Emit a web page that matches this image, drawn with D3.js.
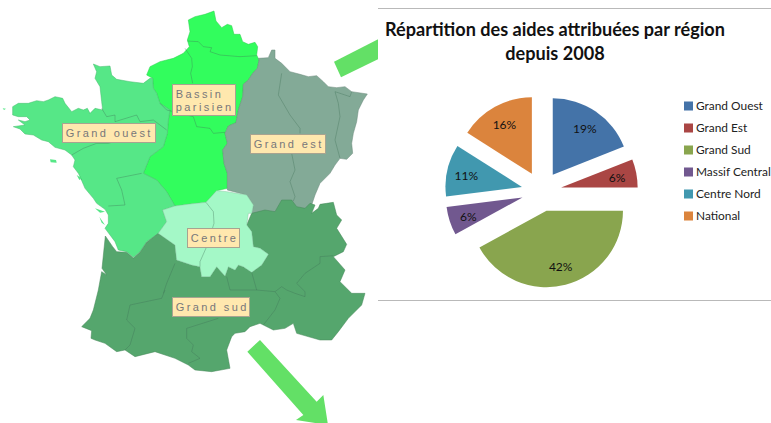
<!DOCTYPE html>
<html>
  <head>
    <meta charset="utf-8">
    <title>Aides par région</title>
    <script src="https://d3js.org/d3.v7.min.js"></script>
    <style>
      html, body { margin: 0; padding: 0; background: #fff; overflow: hidden; }
      svg { display: block; }
    </style>
  </head>
  <body>
    <script>
        // pie data
        var categories = ["Grand Ouest", "Grand Est", "Grand Sud", "Massif Central", "Centre Nord", "National"];
        var shares = [19, 6, 42, 6, 11, 16];
        var pieColors = ["#4473a8", "#aa4644", "#89a54e", "#71588f", "#4198af", "#db843d"];
        var titleLines = ["Répartition des aides attribuées par région", "depuis 2008"];

        // map outlines (units = 1/3 px)
        var bassinOutline = [[565,60],[585,50],[615,43],[642,33],[648,63],[665,83],[682,73],[695,77],[702,103],[720,103],[728,125],[745,133],[765,127],[773,140],[770,165],[777,180],[772,205],[758,220],[745,240],[730,253],[728,290],[715,330],[708,368],[685,378],[675,400],[682,430],[668,450],[672,490],[682,520],[682,565],[650,572],[625,600],[618,607],[570,612],[525,618],[500,575],[470,540],[430,520],[450,470],[490,440],[502,400],[505,360],[510,330],[480,310],[470,280],[460,265],[458,235],[440,225],[450,200],[480,185],[520,175],[550,160],[568,140],[562,120],[570,95]];
        var ouestOutline = [[280,192],[300,200],[330,198],[335,225],[350,238],[390,245],[430,250],[450,235],[458,235],[460,265],[470,280],[480,310],[510,330],[505,360],[502,400],[490,440],[450,470],[430,520],[470,540],[500,575],[525,618],[488,630],[500,665],[475,700],[440,725],[420,755],[400,772],[380,755],[355,750],[345,725],[330,705],[315,685],[325,670],[325,645],[315,628],[290,610],[280,595],[255,565],[240,530],[245,540],[235,520],[220,500],[225,480],[215,465],[195,450],[165,442],[145,425],[125,420],[100,405],[75,402],[60,387],[40,380],[75,375],[55,360],[75,365],[90,360],[80,350],[55,350],[38,345],[38,320],[55,310],[85,310],[110,302],[130,305],[145,300],[165,290],[188,295],[195,310],[215,335],[235,325],[250,330],[262,325],[270,340],[285,325],[308,330],[305,305],[300,260],[285,235],[290,215]];
        var estOutline = [[775,175],[805,173],[815,150],[825,150],[825,175],[845,190],[870,215],[900,223],[925,230],[950,227],[970,245],[985,260],[1010,263],[1035,260],[1055,275],[1102,282],[1090,300],[1075,330],[1070,365],[1060,400],[1055,430],[1058,460],[1040,478],[1020,475],[1005,495],[990,520],[960,550],[945,585],[935,615],[930,640],[890,640],[845,640],[755,645],[760,615],[740,585],[682,570],[682,520],[672,490],[668,450],[682,430],[675,400],[685,378],[708,368],[715,330],[728,290],[730,253],[745,240],[758,220],[772,205],[777,180]];
        var centreOutline = [[488,630],[525,618],[570,612],[618,607],[650,572],[680,575],[740,585],[760,615],[755,640],[745,640],[740,675],[755,695],[760,740],[780,745],[805,763],[785,795],[755,817],[730,800],[715,795],[705,810],[685,800],[675,828],[650,800],[630,830],[605,830],[600,800],[575,795],[530,780],[525,735],[475,700],[500,665]];
        var sudOutline = [[755,640],[795,630],[825,635],[845,600],[875,600],[890,620],[915,625],[930,610],[945,615],[935,640],[955,625],[960,613],[1000,607],[1010,645],[1025,660],[1010,685],[1040,733],[1030,755],[1000,770],[1035,810],[1020,845],[1055,880],[1095,880],[1085,915],[1045,955],[1015,995],[995,1020],[960,1020],[890,1000],[880,970],[855,985],[820,990],[780,970],[750,980],[735,995],[705,1000],[695,1010],[680,1050],[690,1105],[635,1115],[585,1110],[565,1095],[525,1075],[465,1055],[405,1070],[375,1050],[350,1055],[315,1030],[285,1020],[273,1015],[275,992],[245,980],[270,955],[280,930],[295,870],[305,815],[320,825],[306,805],[316,708],[338,740],[350,755],[380,757],[400,774],[420,757],[440,727],[475,700],[525,735],[530,780],[575,795],[600,800],[605,830],[630,830],[650,800],[675,828],[685,800],[705,810],[715,795],[730,800],[755,817],[785,795],[805,763],[780,745],[760,740],[755,695],[740,675]];
        var innerBorders = [
            [[562,123],[595,125],[610,140],[635,143],[630,155],[660,165],[720,170],[770,167]],
            [[555,145],[575,175],[577,200],[572,220],[578,250]],
            [[480,310],[500,330],[580,350],[590,380],[630,385],[640,400],[675,397]],
            [[305,325],[320,350],[345,345],[345,365],[410,345],[420,365],[460,360],[500,390]],
            [[215,465],[250,445],[290,430],[325,430],[360,420]],
            [[350,535],[425,520]],
            [[350,535],[365,570],[375,615],[325,618]],
            [[845,220],[835,285],[870,345],[900,385],[900,400]],
            [[875,460],[885,510],[870,545],[885,590],[880,603]],
            [[1005,275],[1015,310],[1020,350],[1005,420],[1020,475]],
            [[1005,275],[1050,290],[1055,275]],
            [[495,870],[485,895],[390,915],[380,960],[405,985],[390,1035],[375,1050]],
            [[525,790],[500,850],[490,880]],
            [[680,830],[690,870],[770,870]],
            [[755,817],[770,870],[825,875],[840,895],[825,930],[790,975]],
            [[825,875],[845,860],[860,870],[885,880],[915,890],[915,875],[890,850],[915,820],[960,790],[960,770],[1000,767]],
            [[655,955],[560,985],[560,1015],[580,1035],[575,1055],[600,1075],[565,1090]],
            [[618,607],[640,635],[642,670],[620,740],[600,785],[600,800]]
        ];
        var islands = [[[150,478],[168,480],[170,488],[152,487]],[[285,625],[315,635],[300,638]],[[8,325],[18,326],[12,330]],[[298,650],[315,675],[305,668]],[[230,525],[245,535],[238,540]]];
        var arrowUp = [[1002,185],[1140,115],[1140,175],[1023,232]];
        var arrowDown = [[742,1055],[780,1020],[950,1205],[970,1185],[984,1275],[888,1260],[910,1245]];

        var regions = [
            {outline: bassinOutline, fill: "#33fd5d"},
            {outline: ouestOutline, fill: "#56e787"},
            {outline: estOutline, fill: "#83aa97"},
            {outline: sudOutline, fill: "#55a66d"},
            {outline: centreOutline, fill: "#a4f8c7"}
        ];
        var mapLabels = [
            {lines: ["Bassin", "parisien"], x: 172, y: 84, w: 63, h: 31},
            {lines: ["Grand ouest"], x: 62, y: 123, w: 93, h: 19},
            {lines: ["Grand est"], x: 250, y: 134, w: 75, h: 19},
            {lines: ["Centre"], x: 187, y: 228, w: 52, h: 19},
            {lines: ["Grand sud"], x: 172, y: 297, w: 77, h: 19}
        ];

        var width = 771;
        var height = 423;
        var svg = d3.select("body").append("svg")
            .attr("width", width)
            .attr("height", height)
        ;

        // map side
        var xMap = d3.scaleLinear().domain([0, 1140]).range([0, 380]);
        var yMap = d3.scaleLinear().domain([0, 1140]).range([0, 380]);
        var mapLine = d3.line().x((d)=>{return xMap(d[0]);}).y((d)=>{return yMap(d[1]);});

        var defs = svg.append("defs");
        defs.append("filter").attr("id", "soft")
            .append("feGaussianBlur").attr("stdDeviation", 0.45);

        var mapG = svg.append("g").attr("filter", "url(#soft)");
        mapG.selectAll("path.arrow")
            .data([arrowUp, arrowDown])
            .enter()
            .append("path")
            .classed("arrow", true)
            .attr("d", (d)=>{return mapLine(d) + "Z";})
            .attr("fill", "#64e066")
        ;
        mapG.selectAll("path.region")
            .data(regions)
            .enter()
            .append("path")
            .classed("region", true)
            .attr("d", (d)=>{return mapLine(d.outline) + "Z";})
            .attr("fill", (d)=>{return d.fill;})
            .attr("stroke", (d)=>{return d3.color(d.fill).darker(0.6);})
            .attr("stroke-width", 0.5)
            .attr("stroke-linejoin", "round")
        ;
        mapG.selectAll("path.island")
            .data(islands)
            .enter()
            .append("path")
            .classed("island", true)
            .attr("d", (d)=>{return mapLine(d) + "Z";})
            .attr("fill", "#56e787")
        ;
        mapG.selectAll("path.inner")
            .data(innerBorders)
            .enter()
            .append("path")
            .classed("inner", true)
            .attr("d", mapLine)
            .attr("fill", "none")
            .attr("stroke", "#3f6f55")
            .attr("stroke-opacity", 0.5)
            .attr("stroke-width", 0.7)
        ;

        var labelG = svg.selectAll("g.maplabel")
            .data(mapLabels)
            .enter()
            .append("g")
            .classed("maplabel", true)
            .attr("transform", (d)=>{return "translate(" + d.x + "," + d.y + ")";})
        ;
        labelG.append("rect")
            .attr("x", 0.5)
            .attr("y", 0.5)
            .attr("width", (d)=>{return d.w;})
            .attr("height", (d)=>{return d.h;})
            .attr("fill", "#ffe8ae")
            .attr("stroke", "#a8a390")
            .attr("stroke-width", 1)
        ;
        labelG.each(function(d) {
            d3.select(this).selectAll("text")
                .data(d.lines)
                .enter()
                .append("text")
                .attr("x", 3.8)
                .attr("y", (t, i)=>{return d.lines.length > 1 ? 13.5 + i * 13 : 13.8;})
                .attr("font-family", "Liberation Sans")
                .attr("font-size", 11)
                .attr("letter-spacing", 2.4)
                .attr("fill", "#77777a")
                .text((t)=>{return t;})
            ;
        });

        // white panel hides the arrow behind the chart
        svg.append("rect")
            .attr("x", 378)
            .attr("y", 0)
            .attr("width", width - 378)
            .attr("height", height)
            .attr("fill", "#fff")
        ;
        svg.selectAll("line.rule")
            .data([8.5, 300.5])
            .enter()
            .append("line")
            .classed("rule", true)
            .attr("x1", 378)
            .attr("x2", width)
            .attr("y1", (d)=>{return d;})
            .attr("y2", (d)=>{return d;})
            .attr("stroke", "#b9b9b9")
            .attr("stroke-width", 1.2)
        ;

        // title
        svg.selectAll("text.title")
            .data(titleLines)
            .enter()
            .append("text")
            .classed("title", true)
            .attr("x", 555)
            .attr("y", (d, i)=>{return 36 + i * 24;})
            .attr("text-anchor", "middle")
            .attr("font-family", "Lato")
            .attr("font-weight", "bold")
            .attr("font-size", 18.1)
            .attr("fill", "#111")
            .text((d)=>{return d;})
        ;

        // exploded pie
        var cx = 541.5;
        var cy = 191.3;
        var radius = 76.5;
        var explode = 20;
        var color = d3.scaleOrdinal().domain(categories).range(pieColors);
        var pie = d3.pie().sort(null).value((d)=>{return d;});
        var arc = d3.arc().innerRadius(0).outerRadius(radius);
        var labelArc = d3.arc().innerRadius(57).outerRadius(57);
        var slices = pie(shares);

        var sliceG = svg.selectAll("g.slice")
            .data(slices)
            .enter()
            .append("g")
            .classed("slice", true)
            .attr("transform", (d)=>{
                var mid = (d.startAngle + d.endAngle) / 2;
                return "translate(" + (cx + explode * Math.sin(mid)) + "," + (cy - explode * Math.cos(mid)) + ")";
            })
        ;
        sliceG.append("path")
            .attr("d", arc)
            .attr("fill", (d, i)=>{return color(categories[i]);})
        ;
        sliceG.append("text")
            .attr("transform", (d)=>{return "translate(" + labelArc.centroid(d) + ")";})
            .attr("text-anchor", "middle")
            .attr("dy", "0.45em")
            .attr("font-family", "Lato")
            .attr("font-size", 12)
            .attr("fill", "#111")
            .text((d)=>{return d.value + "%";})
        ;

        // legend
        var yLegend = d3.scalePoint().domain(categories).range([106, 216]);
        var legend = svg.selectAll("g.legend")
            .data(categories)
            .enter()
            .append("g")
            .classed("legend", true)
            .attr("transform", (d)=>{return "translate(684," + yLegend(d) + ")";})
        ;
        legend.append("rect")
            .attr("x", 0)
            .attr("y", -4.5)
            .attr("width", 9)
            .attr("height", 9)
            .attr("fill", (d)=>{return color(d);})
        ;
        legend.append("text")
            .attr("x", 12)
            .attr("dy", "0.35em")
            .attr("font-family", "Lato")
            .attr("font-size", 11.9)
            .attr("fill", "#222")
            .text((d)=>{return d;})
        ;
    </script>
  </body>
</html>
